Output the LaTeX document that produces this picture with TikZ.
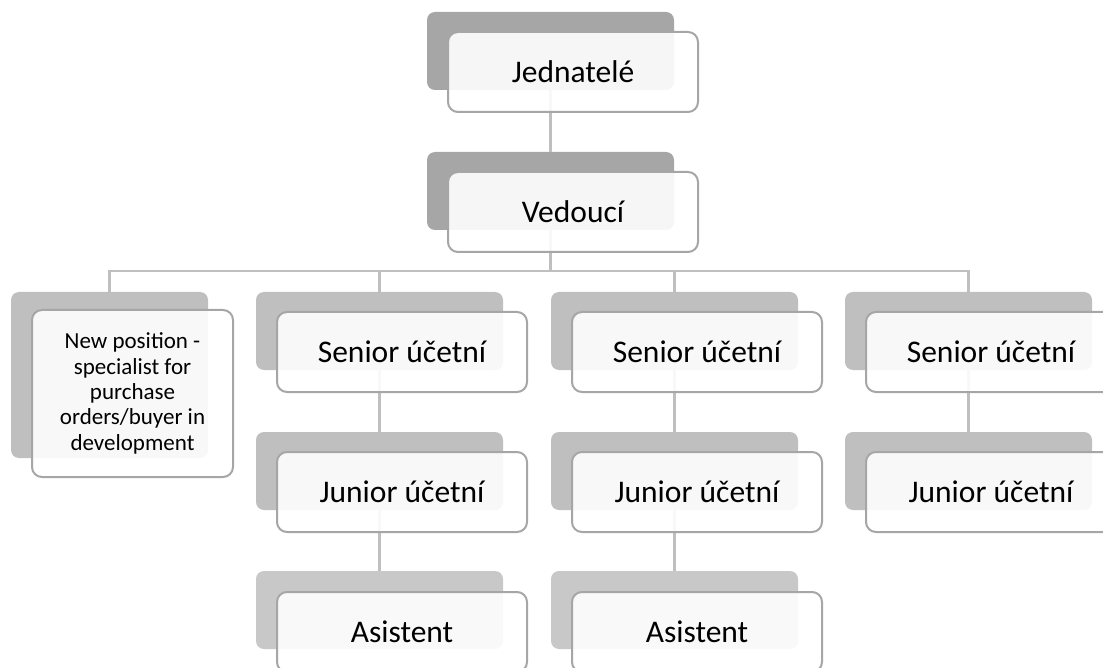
\documentclass[tikz,border=0pt]{standalone}
\usepackage{fontspec}
\setmainfont{Carlito}
\definecolor{topback}{HTML}{A6A6A6}
\definecolor{midback}{HTML}{BFBFBF}
\definecolor{lowback}{HTML}{C8C8C8}
\definecolor{boxline}{HTML}{A6A6A6}
\definecolor{linkgray}{HTML}{BFBFBF}

\begin{document}
\begin{tikzpicture}[x=1pt, y=-1pt,
  backbox/.style={rectangle, rounded corners=8pt, inner sep=0pt, outer sep=0pt,
    anchor=north west, minimum width=247pt, minimum height=78pt},
  frontbox/.style={rectangle, rounded corners=10pt, draw=boxline, line width=2pt,
    fill=white, fill opacity=0.9, text opacity=1, inner sep=0pt, outer sep=0pt,
    anchor=north west, minimum width=250pt, minimum height=80pt,
    font=\fontsize{31.5}{36}\selectfont},
  link/.style={draw=linkgray, line width=2.5pt}]

% Page frame
\clip (0,0) rectangle (1103,668);

% Grey back plates
\node[backbox, fill=topback] (jed-b) at (427,12) {};
\node[backbox, fill=topback] (ved-b) at (427,152) {};
\node[backbox, fill=midback, minimum width=197pt, minimum height=166pt] (np-b) at (11,292) {};
\node[backbox, fill=midback] (sen1-b) at (256,292) {};
\node[backbox, fill=midback] (sen2-b) at (551,292) {};
\node[backbox, fill=midback] (sen3-b) at (845,292) {};
\node[backbox, fill=midback] (jun1-b) at (256,432) {};
\node[backbox, fill=midback] (jun2-b) at (551,432) {};
\node[backbox, fill=midback] (jun3-b) at (845,432) {};
\node[backbox, fill=lowback] (asi1-b) at (256,571) {};
\node[backbox, fill=lowback] (asi2-b) at (551,571) {};

% Connectors
\coordinate (bus) at (550.5,271);
\draw[link] (jed-b.south) -- (ved-b.north);
\draw[link] (ved-b.south) -- (bus);
\draw[link] (np-b.north) |- (bus) -| (sen3-b.north);
\draw[link] (sen1-b.north) |- (bus);
\draw[link] (sen2-b.north) |- (bus);
\draw[link] (sen1-b.south) -- (jun1-b.north);
\draw[link] (sen2-b.south) -- (jun2-b.north);
\draw[link] (sen3-b.south) -- (jun3-b.north);
\draw[link] (jun1-b.south) -- (asi1-b.north);
\draw[link] (jun2-b.south) -- (asi2-b.north);

% Front cards with the texts
\node[frontbox] (jed) at (448,32) {Jednatelé};
\node[frontbox] (ved) at (448,172) {Vedoucí};
\node[frontbox, minimum width=201pt, minimum height=167pt, align=center,
  font=\fontsize{23}{25.3}\selectfont] (np) at (32,310)
  {New position -\\specialist for\\purchase\\orders/buyer in\\development};
\node[frontbox] (sen1) at (277,312) {Senior účetní};
\node[frontbox] (sen2) at (572,312) {Senior účetní};
\node[frontbox] (sen3) at (866,312) {Senior účetní};
\node[frontbox] (jun1) at (277,452) {Junior účetní};
\node[frontbox] (jun2) at (572,452) {Junior účetní};
\node[frontbox] (jun3) at (866,452) {Junior účetní};
\node[frontbox] (asi1) at (277,592) {Asistent};
\node[frontbox] (asi2) at (572,592) {Asistent};

\end{tikzpicture}
\end{document}
